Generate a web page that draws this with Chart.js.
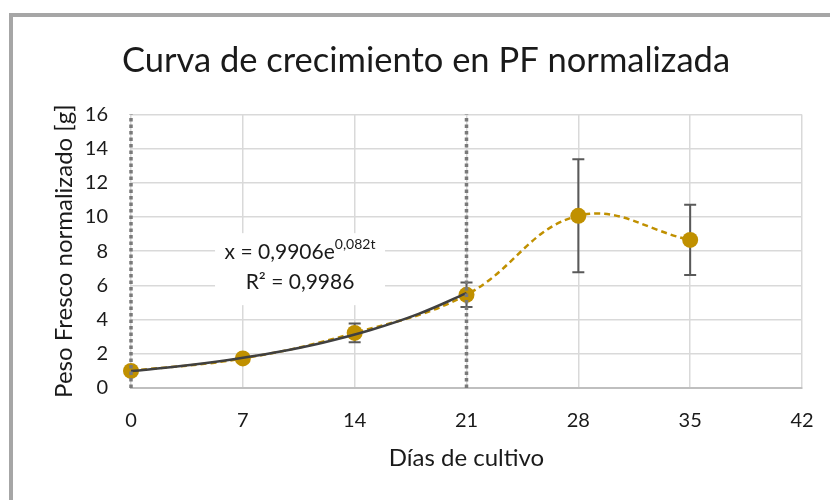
<!DOCTYPE html>
<html>
<head>
<meta charset="utf-8">
<script src="https://cdn.jsdelivr.net/npm/chart.js@4"></script>
<style>
  html, body { margin: 0; padding: 0; background: #fff; }
  #wrap { position: relative; width: 830px; height: 500px; overflow: hidden; }
  #marco { position: absolute; left: 9px; top: 13px; width: 900px; height: 600px;
           border-left: 4px solid #a6a6a6; border-top: 4px solid #a6a6a6; }
  canvas { position: absolute; left: 0; top: 0; }
</style>
</head>
<body>
<div id="wrap">
  <div id="marco"></div>
  <canvas id="grafico" width="830" height="500"></canvas>
</div>
<script>
// Días de muestreo y peso fresco normalizado (media ± desviación)
const dias = [0, 7, 14, 21, 28, 35];
const pesoNormalizado = [1.0, 1.73, 3.22, 5.45, 10.07, 8.66];
const desviacion = [0.08, 0.12, 0.55, 0.72, 3.3, 2.05];

// Ajuste exponencial de la fase 0–21 días: x = a·e^(b·t)
const ajusteA = 0.9906;
const ajusteB = 0.082;
const ajusteR2 = '0,9986';
const diasAjuste = [0, 3, 6, 9, 12, 15, 18, 21];

// Límites de la fase exponencial (líneas verticales punteadas)
const limitesFase = [0, 21];

// Marcas de los ejes
const ejeX = { min: 0, max: 42, paso: 7 };
const ejeY = { min: 0, max: 16, paso: 2 };

const fuente = "Lato, 'Open Sans', sans-serif";
const colorTexto = '#1a1a1a';
const oro = '#c09000';

const puntos = dias.map((d, i) => ({ x: d, y: pesoNormalizado[i] }));
const curvaAjuste = diasAjuste.map(t => ({ x: t, y: ajusteA * Math.exp(ajusteB * t) }));
const lineasFase = limitesFase.map(d => [{ x: d, y: ejeY.min }, { x: d, y: ejeY.max }]);

// Barras de error, dibujadas bajo los marcadores
const barrasError = {
  id: 'barrasError',
  beforeDatasetsDraw(chart) {
    const { ctx, scales: { x, y } } = chart;
    ctx.save();
    ctx.strokeStyle = '#595959';
    ctx.lineWidth = 2;
    dias.forEach((d, i) => {
      const px = x.getPixelForValue(d);
      const arriba = y.getPixelForValue(pesoNormalizado[i] + desviacion[i]);
      const abajo = y.getPixelForValue(pesoNormalizado[i] - desviacion[i]);
      ctx.beginPath();
      ctx.moveTo(px, arriba); ctx.lineTo(px, abajo);
      ctx.moveTo(px - 6, arriba); ctx.lineTo(px + 6, arriba);
      ctx.moveTo(px - 6, abajo); ctx.lineTo(px + 6, abajo);
      ctx.stroke();
    });
    ctx.restore();
  }
};

// Ecuación del ajuste y R² sobre un recuadro blanco
const etiquetaAjuste = {
  id: 'etiquetaAjuste',
  afterDatasetsDraw(chart) {
    const { ctx, scales: { x, y } } = chart;
    const cx = x.getPixelForValue(10.58);
    const cy = y.getPixelForValue(6.95);
    ctx.save();
    ctx.fillStyle = '#ffffff';
    ctx.fillRect(cx - 85, cy - 36, 170, 72);
    ctx.fillStyle = colorTexto;
    ctx.textBaseline = 'alphabetic';
    const base = "21px " + fuente;
    const sup = "14px " + fuente;
    const parte1 = 'x = ' + ajusteA.toString().replace('.', ',') + 'e';
    const parte2 = ajusteB.toString().replace('.', ',') + 't';
    ctx.font = base;
    const w1 = ctx.measureText(parte1).width;
    ctx.font = sup;
    const w2 = ctx.measureText(parte2).width;
    const inicio = cx - (w1 + w2) / 2;
    ctx.font = base;
    ctx.textAlign = 'left';
    ctx.fillText(parte1, inicio, cy - 10);
    ctx.font = sup;
    ctx.fillText(parte2, inicio + w1, cy - 20);
    ctx.font = base;
    ctx.textAlign = 'center';
    ctx.fillText('R² = ' + ajusteR2, cx, cy + 20);
    ctx.restore();
  }
};

new Chart(document.getElementById('grafico'), {
  type: 'scatter',
  data: {
    datasets: [
      {
        label: 'Límite 0',
        data: lineasFase[0],
        showLine: true,
        borderColor: '#7a7a7a',
        borderWidth: 3.5,
        borderDash: [3.5, 3],
        pointRadius: 0,
        clip: false,
        order: 0
      },
      {
        label: 'Límite 21',
        data: lineasFase[1],
        showLine: true,
        borderColor: '#7a7a7a',
        borderWidth: 3.5,
        borderDash: [3.5, 3],
        pointRadius: 0,
        clip: false,
        order: 0
      },
      {
        label: 'Ajuste exponencial',
        data: curvaAjuste,
        showLine: true,
        borderColor: '#404040',
        borderWidth: 2.5,
        tension: 0.4,
        pointRadius: 0,
        order: 1
      },
      {
        label: 'Peso fresco normalizado',
        data: puntos,
        showLine: true,
        borderColor: oro,
        borderWidth: 2.5,
        borderDash: [6, 4],
        tension: 0.4,
        pointRadius: 8,
        pointBackgroundColor: oro,
        pointBorderColor: oro,
        pointBorderWidth: 0,
        clip: false,
        order: 2
      }
    ]
  },
  options: {
    responsive: false,
    animation: false,
    events: [],
    layout: { padding: { left: 50, right: 28, top: 0, bottom: 17 } },
    plugins: {
      legend: { display: false },
      tooltip: { enabled: false },
      title: {
        display: true,
        text: 'Curva de crecimiento en PF normalizada',
        color: colorTexto,
        font: { family: fuente, size: 34.5, weight: 'normal', lineHeight: 1.2 },
        padding: { top: 40, bottom: 33 }
      }
    },
    scales: {
      x: {
        type: 'linear',
        min: ejeX.min, max: ejeX.max,
        afterFit(s) { s.height = 95; s.paddingLeft = 0; s.paddingRight = 0; },
        ticks: { stepSize: ejeX.paso, color: colorTexto, padding: 21,
                 font: { family: fuente, size: 20 } },
        grid: { color: '#d9d9d9', lineWidth: 1.5, drawTicks: false },
        border: { display: true, color: '#bfbfbf', width: 2 },
        title: { display: true, text: 'Días de cultivo', color: colorTexto,
                 font: { family: fuente, size: 24, lineHeight: 1.2 },
                 padding: { top: 0, bottom: 10 } }
      },
      y: {
        type: 'linear',
        min: ejeY.min, max: ejeY.max,
        afterFit(s) { s.width = 81; s.paddingTop = 0; s.paddingBottom = 0; },
        ticks: { stepSize: ejeY.paso, color: colorTexto, padding: 23,
                 font: { family: fuente, size: 20 } },
        grid: { color: '#d9d9d9', lineWidth: 1.5, drawTicks: false },
        border: { display: false },
        title: { display: true, text: 'Peso Fresco normalizado [g]', color: colorTexto,
                 font: { family: fuente, size: 24, lineHeight: 1.2 },
                 padding: { top: 0, bottom: 0 } }
      }
    }
  },
  plugins: [barrasError, etiquetaAjuste]
});
</script>
</body>
</html>
